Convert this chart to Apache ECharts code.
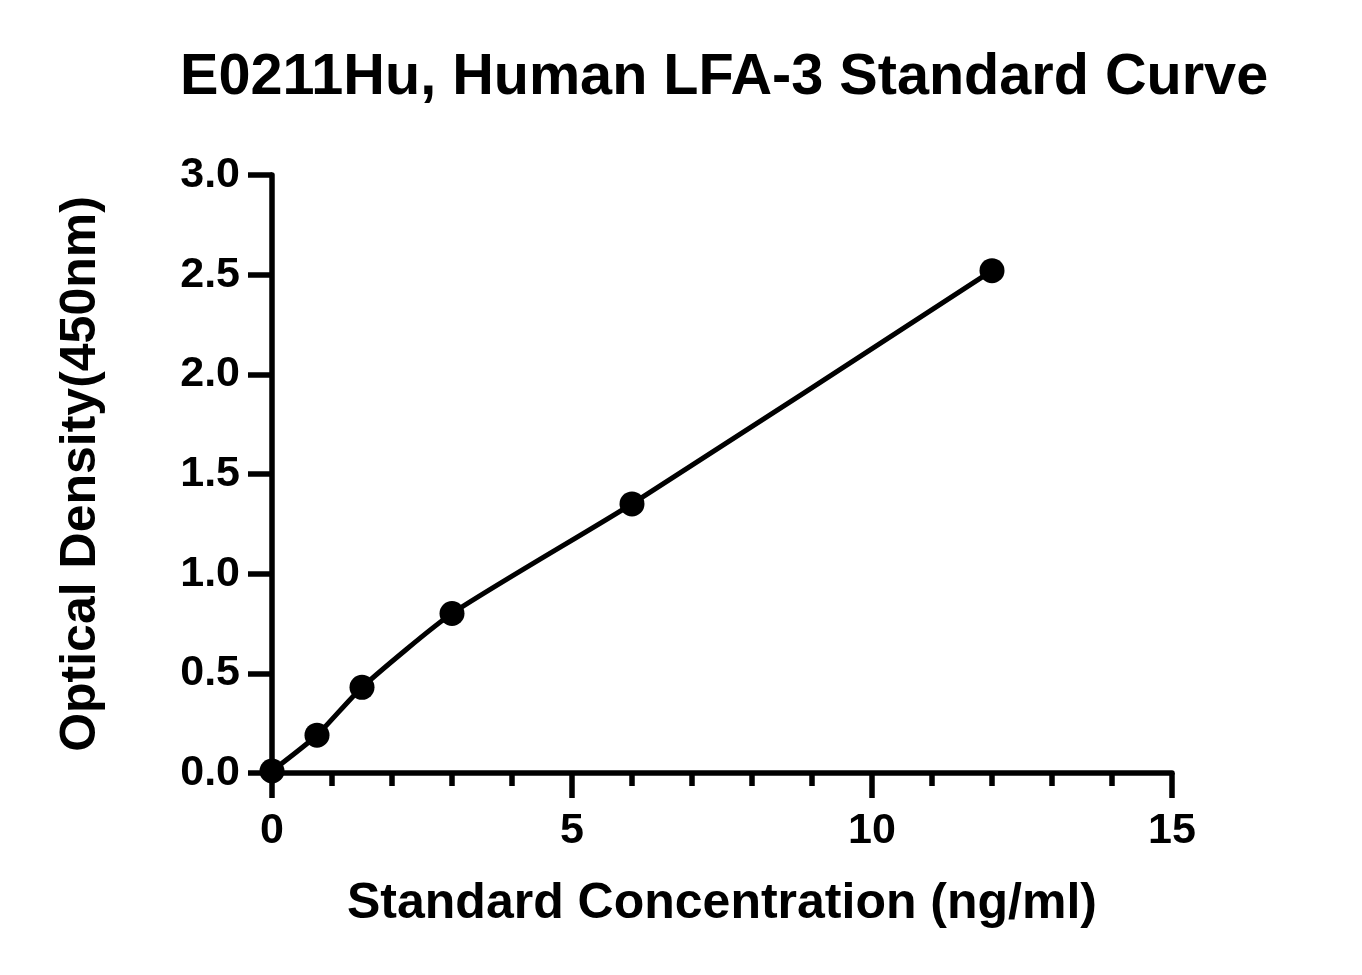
<!DOCTYPE html>
<html>
<head>
<meta charset="utf-8">
<title>E0211Hu Standard Curve</title>
<script src="https://cdn.jsdelivr.net/npm/echarts@6/dist/echarts.min.js"></script>
<style>
  html, body { margin: 0; padding: 0; background: #fff; }
  #main { width: 1362px; height: 975px; }
</style>
</head>
<body>
<div id="main"></div>
<script type="text/javascript">
// standard concentrations (ng/ml) and measured OD at 450nm
var concentration = [0, 0.75, 1.5, 3, 6, 12];
var density = [0.01, 0.19, 0.43, 0.80, 1.35, 2.52];

var xTicks = { min: 0, max: 15, interval: 5 };
var yTicks = { min: 0, max: 3, interval: 0.5 };

var font = 'Liberation Sans, Arial, sans-serif';

var points = [];
for (var i = 0; i < concentration.length; i++) {
  points.push([concentration[i], density[i]]);
}

var myChart = echarts.init(document.getElementById('main'));

var option = {
  backgroundColor: '#fff',
  animation: false,
  title: {
    text: 'E0211Hu, Human LFA-3 Standard Curve',
    left: 175,
    top: 44,
    textStyle: { fontFamily: font, fontWeight: 'bold', fontSize: 57.6, color: '#000' }
  },
  grid: { left: 272, right: 190, top: 175, bottom: 202 },
  xAxis: {
    type: 'value',
    min: xTicks.min,
    max: xTicks.max,
    interval: xTicks.interval,
    name: 'Standard Concentration (ng/ml)',
    nameLocation: 'middle',
    nameGap: 106,
    nameTextStyle: { fontFamily: font, fontWeight: 'bold', fontSize: 50, color: '#000' },
    axisLine: { show: true, lineStyle: { color: '#000', width: 5.5 } },
    axisTick: { show: true, length: 25, lineStyle: { color: '#000', width: 5.5 } },
    minorTick: { show: true, splitNumber: 5, length: 13, lineStyle: { color: '#000', width: 5.5 } },
    axisLabel: { margin: 37, fontFamily: font, fontWeight: 'bold', fontSize: 43, color: '#000' },
    splitLine: { show: false }
  },
  yAxis: {
    type: 'value',
    min: yTicks.min,
    max: yTicks.max,
    interval: yTicks.interval,
    name: 'Optical Density(450nm)',
    nameLocation: 'middle',
    nameGap: 166,
    nameTextStyle: { fontFamily: font, fontWeight: 'bold', fontSize: 50, color: '#000' },
    axisLine: { show: true, lineStyle: { color: '#000', width: 5.5 } },
    axisTick: { show: true, length: 24, lineStyle: { color: '#000', width: 5.5 } },
    axisLabel: {
      margin: 32, fontFamily: font, fontWeight: 'bold', fontSize: 43, color: '#000',
      formatter: function (v) { return v.toFixed(1); }
    },
    splitLine: { show: false }
  },
  series: [
    {
      type: 'line',
      data: points,
      smooth: 0.2,
      clip: false,
      symbol: 'circle',
      symbolSize: 25,
      itemStyle: { color: '#000' },
      lineStyle: { color: '#000', width: 5 }
    }
  ]
};

myChart.setOption(option);
</script>
</body>
</html>
